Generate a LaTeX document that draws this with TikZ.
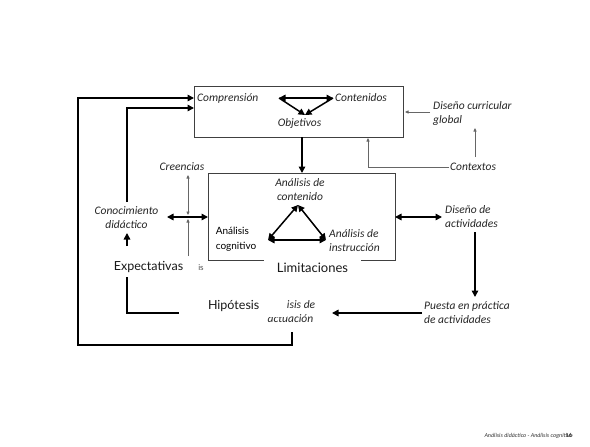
\documentclass[tikz,border=0pt]{standalone}
\usepackage{fontspec}
\setmainfont{Carlito}
\newfontfamily\gillfont{Lato}
\usetikzlibrary{arrows.meta}
\begin{document}
\begin{tikzpicture}[x=1pt,y=-1pt,
  lbl/.style={font=\itshape\fontsize{11.5}{14}\selectfont, align=center, inner sep=0pt, text=black!85},
  sans/.style={font=\gillfont\fontsize{12.5}{15}\selectfont, inner sep=0pt, text=black!90},
  frame/.style={draw=black!75, line width=1pt, inner sep=0pt},
  flow/.style={line width=1.5pt, -{Triangle[length=6.5pt,width=6.5pt]}},
  flowboth/.style={line width=1.5pt, {Triangle[length=6.5pt,width=6.5pt]}-{Triangle[length=6.5pt,width=6.5pt]}},
  thinarrow/.style={draw=black!60, line width=0.7pt, -{Triangle[length=3.5pt,width=3pt]}},
  thinboth/.style={draw=black!60, line width=0.7pt, {Triangle[length=3.5pt,width=3pt]}-{Triangle[length=3.5pt,width=3pt]}},
  plain/.style={line width=1.5pt},
]
\useasboundingbox[fill=white] (0,0) rectangle (590,447);

% ---- upper frame: planning components ----
\node[frame, minimum width=209pt, minimum height=51pt] (top) at (298.5,111.5) {};
\node[lbl, anchor=west] (compr) at (197,98) {Comprensión};
\node[lbl, anchor=west] (conten) at (335,98) {Contenidos};
\node[lbl] (objet) at (299.5,123) {Objetivos};
\coordinate (t1) at (279,98);
\coordinate (t2) at (333,98);
\coordinate (t3) at (305,115);
\draw[flowboth] (t1) -- (t2);
\draw[flow] (t1) -- (t3);
\draw[flow] (t2) -- (t3);

% ---- lower frame: cognitive analysis ----
\draw[frame] (265,260) -- (208,260) -- (208,173) -- (395,173) -- (395,260) -- (360,260);
\node[inner sep=0pt, minimum width=187pt, minimum height=87pt] (mid) at (301.5,216.5) {};
\node[lbl] (acont) at (300,190) {Análisis de\\contenido};
\node[font=\gillfont\fontsize{10}{15}\selectfont, align=left, inner sep=0pt] (acogn) at (236,239.5) {Análisis\\cognitivo};
\node[lbl, align=left, anchor=west] (ainst) at (329,241) {Análisis de\\instrucción};
\coordinate (ta) at (298,205);
\coordinate (tb) at (268,240);
\coordinate (tc) at (326,240);
\draw[flowboth] (ta) -- (tb);
\draw[flowboth] (tb) -- (tc);
\draw[flowboth] (tc) -- (ta);
\node[sans, fill=white, inner xsep=13pt, inner ysep=4pt, font=\gillfont\fontsize{13}{15}\selectfont] (limit) at (312.5,268) {Limitaciones};

\draw[flow] (302,137) -- (302,173);

% ---- left side ----
\node[lbl] (creen) at (182,167) {Creencias};
\node[lbl] (conoc) at (126.5,218) {Conocimiento\\didáctico};
\node[sans] (expect) at (148.5,267) {Expectativas};
\node[font=\gillfont\fontsize{8}{10}\selectfont, text=black!70, inner sep=0pt] (resto) at (201,268) {is};
\draw[thinboth] (188,175) -- (188,215);
\draw[thinarrow] (188,256) -- (188,219);
\draw[flowboth] (167,217) -- (208,217);
\draw[flow] (127,246) -- (127,233);

\node[lbl] (actua) at (290.5,312) {Análisis de\\actuación};
\node[sans, fill=white, minimum height=22pt, text width=65pt, inner xsep=14pt, align=left] (hipot) at (240.5,306) {Hipótesis};
\draw[plain] (127,277) |- (179,313);

\coordinate (inA) at (194,98);
\coordinate (inB) at (194,108);
\draw[flow] (292,332) -- (292,345) -- (78,345) -- (78,98) -- (inA);
\draw[flow] (127,202) -- (127,108) -- (inB);

% ---- right side ----
\node[lbl, align=left, anchor=west] (dcg) at (433,113.5) {Diseño curricular\\global};
\node[lbl, anchor=west] (ctx) at (450,167) {Contextos};
\draw[thinarrow] (430,112) -- (405,112);
\draw[thinarrow] (475,157) -- (475,128);
\draw[thinarrow] (449,167) -| (368,138);

\node[lbl, align=left, anchor=west] (dact) at (445,217) {Diseño de\\actividades};
\node[lbl, align=left, anchor=west] (pract) at (424,313) {Puesta en práctica\\de actividades};
\draw[flowboth] (395,217) -- (442,217);
\draw[flow] (475,232) -- (475,297);
\draw[flow] (422,313) -- (332,313);

% ---- footer ----
\node[font=\itshape\fontsize{6}{7}\selectfont, anchor=east, inner sep=0pt, text=black!80] (foot) at (573,436) {Análisis didáctico - Análisis cognitivo};
\node[font=\bfseries\fontsize{6}{7}\selectfont, anchor=east, inner sep=0pt, text=black!80] (pagen) at (572,435.5) {16};
\end{tikzpicture}
\end{document}
